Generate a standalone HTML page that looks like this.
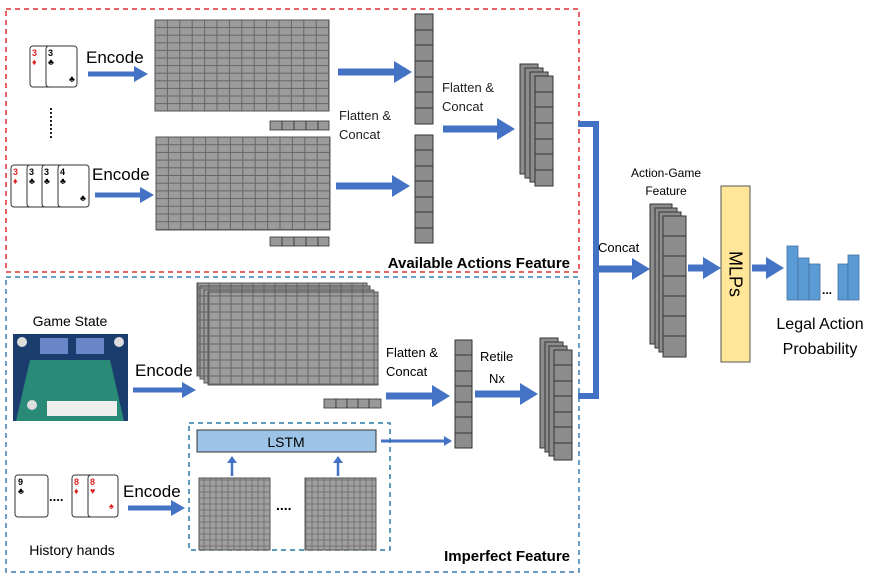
<!DOCTYPE html>
<html><head><meta charset="utf-8"><style>
html,body{margin:0;padding:0;background:#fff;}
svg{display:block;font-family:"Liberation Sans",sans-serif;}
</style></head><body>
<svg width="878" height="577" viewBox="0 0 878 577" xmlns="http://www.w3.org/2000/svg">
<defs>
<pattern id="g1" x="155" y="20" width="12.4" height="7.6" patternUnits="userSpaceOnUse">
<rect width="12.4" height="7.6" fill="#666"/><rect x="0.5" y="0.5" width="11.4" height="6.6" fill="#9c9c9c"/></pattern>
<pattern id="g2" x="156" y="137" width="12.4" height="7.7" patternUnits="userSpaceOnUse">
<rect width="12.4" height="7.7" fill="#666"/><rect x="0.5" y="0.5" width="11.4" height="6.7" fill="#9c9c9c"/></pattern>
<pattern id="g3" x="0" y="0" width="11" height="8" patternUnits="userSpaceOnUse">
<rect width="11" height="8" fill="#666"/><rect x="0.5" y="0.5" width="10" height="7" fill="#9c9c9c"/></pattern>
<pattern id="g4" x="0" y="0" width="6" height="6" patternUnits="userSpaceOnUse">
<rect width="6" height="6" fill="#6a6a6a"/><rect x="0.4" y="0.4" width="5.2" height="5.2" fill="#a0a0a0"/></pattern>
<marker id="ah" markerWidth="18" markerHeight="22" refX="0" refY="11" orient="auto" markerUnits="userSpaceOnUse"><path d="M0,0 L18,11 L0,22z" fill="#4472C4"/></marker>
<marker id="as" markerWidth="14" markerHeight="16" refX="0" refY="8" orient="auto" markerUnits="userSpaceOnUse"><path d="M0,0 L14,8 L0,16z" fill="#4472C4"/></marker>
<marker id="at" markerWidth="8" markerHeight="10" refX="0" refY="5" orient="auto" markerUnits="userSpaceOnUse"><path d="M0,0 L8,5 L0,10z" fill="#4472C4"/></marker>
</defs>

<rect x="6" y="9" width="573" height="263" fill="none" stroke="#e03030" stroke-width="1.5" stroke-dasharray="5,4"/>
<rect x="6" y="277" width="573" height="295" fill="none" stroke="#3a7fb5" stroke-width="1.5" stroke-dasharray="5,4"/>

<g stroke="#333" stroke-width="1" fill="#fff">
<rect x="30" y="46" width="30" height="41" rx="3"/><rect x="46" y="46" width="31" height="41" rx="3"/>
<rect x="11" y="165" width="30" height="42" rx="3"/><rect x="27" y="165" width="30" height="42" rx="3"/><rect x="42" y="165" width="30" height="42" rx="3"/><rect x="58" y="165" width="31" height="42" rx="3"/>
</g>
<g font-size="9" font-weight="bold">
<text x="32" y="56" fill="#d22">3</text><text x="32" y="65" fill="#d22">♦</text><text x="48" y="56">3</text><text x="48" y="65">♣</text><text x="69" y="82">♣</text>
<text x="13" y="175" fill="#d22">3</text><text x="13" y="184" fill="#d22">♦</text><text x="29" y="175">3</text><text x="29" y="184">♣</text><text x="44" y="175">3</text><text x="44" y="184">♣</text><text x="60" y="175">4</text><text x="60" y="184">♣</text><text x="80" y="201">♣</text>
</g>
<line x1="51" y1="108" x2="51" y2="140" stroke="#222" stroke-width="2" stroke-dasharray="2,2"/>
<text x="86" y="63" font-size="17">Encode</text>
<text x="92" y="180" font-size="17">Encode</text>
<g stroke="#4472C4" stroke-width="5">
<line x1="88" y1="74" x2="134" y2="74" marker-end="url(#as)"/>
<line x1="95" y1="195" x2="140" y2="195" marker-end="url(#as)"/>
</g>

<rect x="155" y="20" width="174" height="91" fill="url(#g1)" stroke="#555"/>
<rect x="156" y="137" width="174" height="93" fill="url(#g2)" stroke="#555"/>
<g fill="#999" stroke="#333" stroke-width="0.8">
<rect x="270" y="121" width="12" height="9"/><rect x="282" y="121" width="12" height="9"/><rect x="294" y="121" width="12" height="9"/><rect x="306" y="121" width="12" height="9"/><rect x="318" y="121" width="11" height="9"/>
<rect x="270" y="237" width="12" height="9"/><rect x="282" y="237" width="12" height="9"/><rect x="294" y="237" width="12" height="9"/><rect x="306" y="237" width="12" height="9"/><rect x="318" y="237" width="11" height="9"/>
</g>

<g stroke="#4472C4" stroke-width="7">
<line x1="338" y1="72" x2="394" y2="72" marker-end="url(#ah)"/>
<line x1="336" y1="186" x2="392" y2="186" marker-end="url(#ah)"/>
<line x1="443" y1="129" x2="497" y2="129" marker-end="url(#ah)"/>
</g>
<g font-size="13" fill="#222">
<text x="339" y="120">Flatten &amp;</text><text x="339" y="139">Concat</text>
<text x="442" y="92">Flatten &amp;</text><text x="442" y="111">Concat</text>
</g>

<g fill="#8c8c8c" stroke="#333" stroke-width="1">
<rect x="415" y="14" width="18" height="110"/><rect x="415" y="135" width="18" height="108"/>
</g>
<g stroke="#333" stroke-width="1">
<line x1="415" y1="30" x2="433" y2="30"/><line x1="415" y1="45" x2="433" y2="45"/><line x1="415" y1="61" x2="433" y2="61"/><line x1="415" y1="77" x2="433" y2="77"/><line x1="415" y1="92" x2="433" y2="92"/><line x1="415" y1="108" x2="433" y2="108"/>
<line x1="415" y1="150" x2="433" y2="150"/><line x1="415" y1="166" x2="433" y2="166"/><line x1="415" y1="181" x2="433" y2="181"/><line x1="415" y1="197" x2="433" y2="197"/><line x1="415" y1="212" x2="433" y2="212"/><line x1="415" y1="228" x2="433" y2="228"/>
</g>
<g fill="#8c8c8c" stroke="#333" stroke-width="1">
<rect x="520" y="64" width="18" height="110"/><rect x="525" y="68" width="18" height="110"/><rect x="530" y="72" width="18" height="110"/><rect x="535" y="76" width="18" height="110"/>
</g>
<g stroke="#333"><line x1="535" y1="92" x2="553" y2="92"/><line x1="535" y1="107" x2="553" y2="107"/><line x1="535" y1="123" x2="553" y2="123"/><line x1="535" y1="139" x2="553" y2="139"/><line x1="535" y1="154" x2="553" y2="154"/><line x1="535" y1="170" x2="553" y2="170"/></g>

<text x="570" y="268" font-size="15" font-weight="bold" text-anchor="end">Available Actions Feature</text>

<text x="70" y="326" font-size="14" text-anchor="middle">Game State</text>
<rect x="13" y="334" width="115" height="87" fill="#1a3d6e"/>
<path d="M30,360 L110,360 L124,421 L16,421 Z" fill="#2a8a78"/>
<rect x="40" y="338" width="28" height="16" fill="#6a86c8"/><rect x="76" y="338" width="28" height="16" fill="#6a86c8"/>
<circle cx="22" cy="342" r="5" fill="#ddd"/><circle cx="119" cy="342" r="5" fill="#ddd"/><circle cx="32" cy="405" r="5" fill="#ddd"/>
<rect x="47" y="401" width="70" height="15" fill="#eee"/>
<text x="135" y="376" font-size="17">Encode</text>
<g stroke="#4472C4" stroke-width="5"><line x1="133" y1="390" x2="182" y2="390" marker-end="url(#as)"/><line x1="128" y1="508" x2="171" y2="508" marker-end="url(#as)"/></g>
<rect x="197" y="283" width="170" height="93" fill="url(#g3)" stroke="#555"/>
<rect x="200" y="286" width="170" height="93" fill="url(#g3)" stroke="#555"/>
<rect x="204" y="290" width="170" height="93" fill="url(#g3)" stroke="#555"/>
<rect x="208" y="292" width="170" height="93" fill="url(#g3)" stroke="#555"/>
<g fill="#999" stroke="#333" stroke-width="0.8">
<rect x="324" y="399" width="12" height="9"/><rect x="336" y="399" width="11" height="9"/><rect x="347" y="399" width="11" height="9"/><rect x="358" y="399" width="11" height="9"/><rect x="369" y="399" width="12" height="9"/>
</g>
<g font-size="13"><text x="386" y="357">Flatten &amp;</text><text x="386" y="376">Concat</text>
<text x="480" y="361">Retile</text><text x="489" y="383">Nx</text></g>
<g stroke="#4472C4" stroke-width="7"><line x1="386" y1="396" x2="432" y2="396" marker-end="url(#ah)"/><line x1="475" y1="394" x2="520" y2="394" marker-end="url(#ah)"/></g>
<line x1="381" y1="441" x2="444" y2="441" stroke="#4472C4" stroke-width="3" marker-end="url(#at)"/>
<rect x="455" y="340" width="17" height="108" fill="#8c8c8c" stroke="#333"/>
<g stroke="#333"><line x1="455" y1="355" x2="472" y2="355"/><line x1="455" y1="371" x2="472" y2="371"/><line x1="455" y1="386" x2="472" y2="386"/><line x1="455" y1="402" x2="472" y2="402"/><line x1="455" y1="417" x2="472" y2="417"/><line x1="455" y1="433" x2="472" y2="433"/></g>
<g fill="#8c8c8c" stroke="#333">
<rect x="540" y="338" width="18" height="110"/><rect x="545" y="342" width="18" height="110"/><rect x="549" y="346" width="18" height="110"/><rect x="554" y="350" width="18" height="110"/>
</g>
<g stroke="#333"><line x1="554" y1="365" x2="572" y2="365"/><line x1="554" y1="381" x2="572" y2="381"/><line x1="554" y1="396" x2="572" y2="396"/><line x1="554" y1="412" x2="572" y2="412"/><line x1="554" y1="427" x2="572" y2="427"/><line x1="554" y1="443" x2="572" y2="443"/></g>

<rect x="189" y="423" width="201" height="127" fill="none" stroke="#2a7aa8" stroke-width="1.5" stroke-dasharray="5,4"/>
<rect x="197" y="430" width="179" height="22" fill="#9dc3e6" stroke="#333"/>
<text x="286" y="447" font-size="14" text-anchor="middle">LSTM</text>
<g stroke="#4472C4" stroke-width="2.5"><line x1="232" y1="476" x2="232" y2="462"/><line x1="338" y1="476" x2="338" y2="462"/></g>
<path d="M227,463 L232,456 L237,463Z M333,463 L338,456 L343,463Z" fill="#4472C4"/>
<rect x="199" y="478" width="71" height="72" fill="url(#g4)" stroke="#555"/>
<rect x="305" y="478" width="71" height="72" fill="url(#g4)" stroke="#555"/>
<text x="276" y="510" font-size="14" font-weight="bold">....</text>
<g stroke="#333" fill="#fff"><rect x="15" y="475" width="33" height="42" rx="3"/><rect x="72" y="475" width="31" height="42" rx="3"/><rect x="88" y="475" width="30" height="42" rx="3"/></g>
<g font-size="9" font-weight="bold"><text x="18" y="485">9</text><text x="18" y="494">♣</text><text x="74" y="485" fill="#d22">8</text><text x="74" y="494" fill="#d22">♦</text><text x="90" y="485" fill="#d22">8</text><text x="90" y="494" fill="#d22">♥</text><text x="109" y="509" fill="#d22">♠</text></g>
<text x="49" y="501" font-size="13" font-weight="bold">....</text>
<text x="123" y="497" font-size="17">Encode</text>
<text x="72" y="555" font-size="14" text-anchor="middle">History hands</text>
<text x="570" y="561" font-size="15" font-weight="bold" text-anchor="end">Imperfect Feature</text>

<path d="M578,124 L596,124 L596,396 L578,396" fill="none" stroke="#4472C4" stroke-width="6"/>
<line x1="596" y1="269" x2="632" y2="269" stroke="#4472C4" stroke-width="7" marker-end="url(#ah)"/>
<text x="598" y="252" font-size="13">Concat</text>

<text x="666" y="177" font-size="12" text-anchor="middle">Action-Game</text>
<text x="666" y="195" font-size="12" text-anchor="middle">Feature</text>
<g fill="#8c8c8c" stroke="#333"><rect x="650" y="204" width="22" height="140"/><rect x="655" y="208" width="22" height="140"/><rect x="659" y="212" width="22" height="140"/><rect x="663" y="216" width="23" height="141"/></g>
<g stroke="#333"><line x1="663" y1="236" x2="686" y2="236"/><line x1="663" y1="256" x2="686" y2="256"/><line x1="663" y1="276" x2="686" y2="276"/><line x1="663" y1="296" x2="686" y2="296"/><line x1="663" y1="316" x2="686" y2="316"/><line x1="663" y1="336" x2="686" y2="336"/></g>
<g stroke="#4472C4" stroke-width="7"><line x1="688" y1="268" x2="703" y2="268" marker-end="url(#ah)"/><line x1="752" y1="268" x2="766" y2="268" marker-end="url(#ah)"/></g>
<rect x="721" y="186" width="29" height="176" fill="#ffe699" stroke="#555"/>
<text x="0" y="0" font-size="18" text-anchor="middle" dominant-baseline="central" transform="translate(735.5 274) rotate(90)">MLPs</text>
<g fill="#5b9bd5" stroke="#41719c" stroke-width="0.8">
<rect x="787" y="246" width="11" height="54"/><rect x="798" y="258" width="11" height="42"/><rect x="809" y="264" width="11" height="36"/><rect x="838" y="264" width="10" height="36"/><rect x="848" y="255" width="11" height="45"/>
</g>
<text x="822" y="294" font-size="12" font-weight="bold">...</text>
<text x="820" y="329" font-size="16" text-anchor="middle">Legal Action</text>
<text x="820" y="354" font-size="16" text-anchor="middle">Probability</text>
</svg>
</body></html>
